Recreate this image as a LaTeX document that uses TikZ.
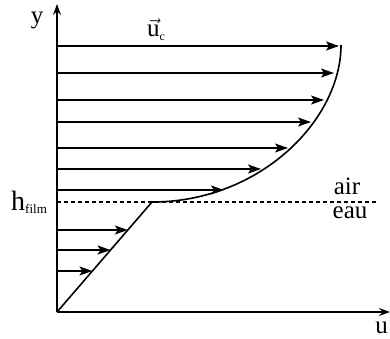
\documentclass[tikz,border=0pt]{standalone}
\usepackage{fontspec}
\setmainfont{Liberation Serif}
\usetikzlibrary{arrows.meta}
\begin{document}
\begin{tikzpicture}[x=1pt,y=-1pt,
  prof/.style={line width=1.6pt},
  vec/.style={line width=1.6pt,-{Stealth[length=13pt,width=9pt,inset=3pt]}},
  axis/.style={line width=1.6pt,-{Stealth[length=11pt,width=8pt,inset=4pt]}},
  lab/.style={inner sep=0pt,font=\fontsize{25}{30}\selectfont}]
\useasboundingbox (0,0) rectangle (390,339);
\coordinate (O) at (57,312);
\coordinate (yend) at (57,4);
\coordinate (xend) at (390,312);
\coordinate (F) at (152,202);
\coordinate (T) at (341,45);
% axes
\draw[axis] (O) -- (yend);
\draw[axis] (O) -- (xend);
% interface
\coordinate (d0) at (57,202);
\coordinate (d1) at (377,202);
\draw[line width=1.3pt,dash pattern=on 4pt off 3pt] (d0) -- (d1);
% profile
\draw[prof,line join=round] (O) -- (F) .. controls (260,202) and (341,120) .. (T);
% air arrows
\foreach \yy/\xx [count=\i] in {46/339,73/334,100/324,122/311,148/288,169/261,190/224}{
  \coordinate (a\i) at (57,\yy);
  \coordinate (b\i) at (\xx,\yy);
  \draw[vec] (a\i) -- (b\i);
}
% water arrows
\foreach \yy [count=\i] in {230,250,271}{
  \pgfmathsetmacro{\xx}{57+95*(312-\yy)/110}
  \coordinate (c\i) at (57,\yy);
  \coordinate (e\i) at (\xx,\yy);
  \draw[vec] (c\i) -- (e\i);
}
% labels
\node[lab] (ly) at (37,20) {y};
\node[lab,anchor=base east] (lu) at (388,333) {u};
\node[lab,anchor=base west] (luc) at (147,37) {$\vec{\mathrm{u}}$\raisebox{-4pt}{\fontsize{12}{14}\selectfont c}};
\node[lab] (lair) at (347,186) {air};
\node[lab] (leau) at (350,213) {eau};
\node[lab,anchor=base west,font=\fontsize{28}{32}\selectfont] (lh) at (11,210) {h\raisebox{-3pt}{\fontsize{13}{15}\selectfont film}};
\end{tikzpicture}
\end{document}
